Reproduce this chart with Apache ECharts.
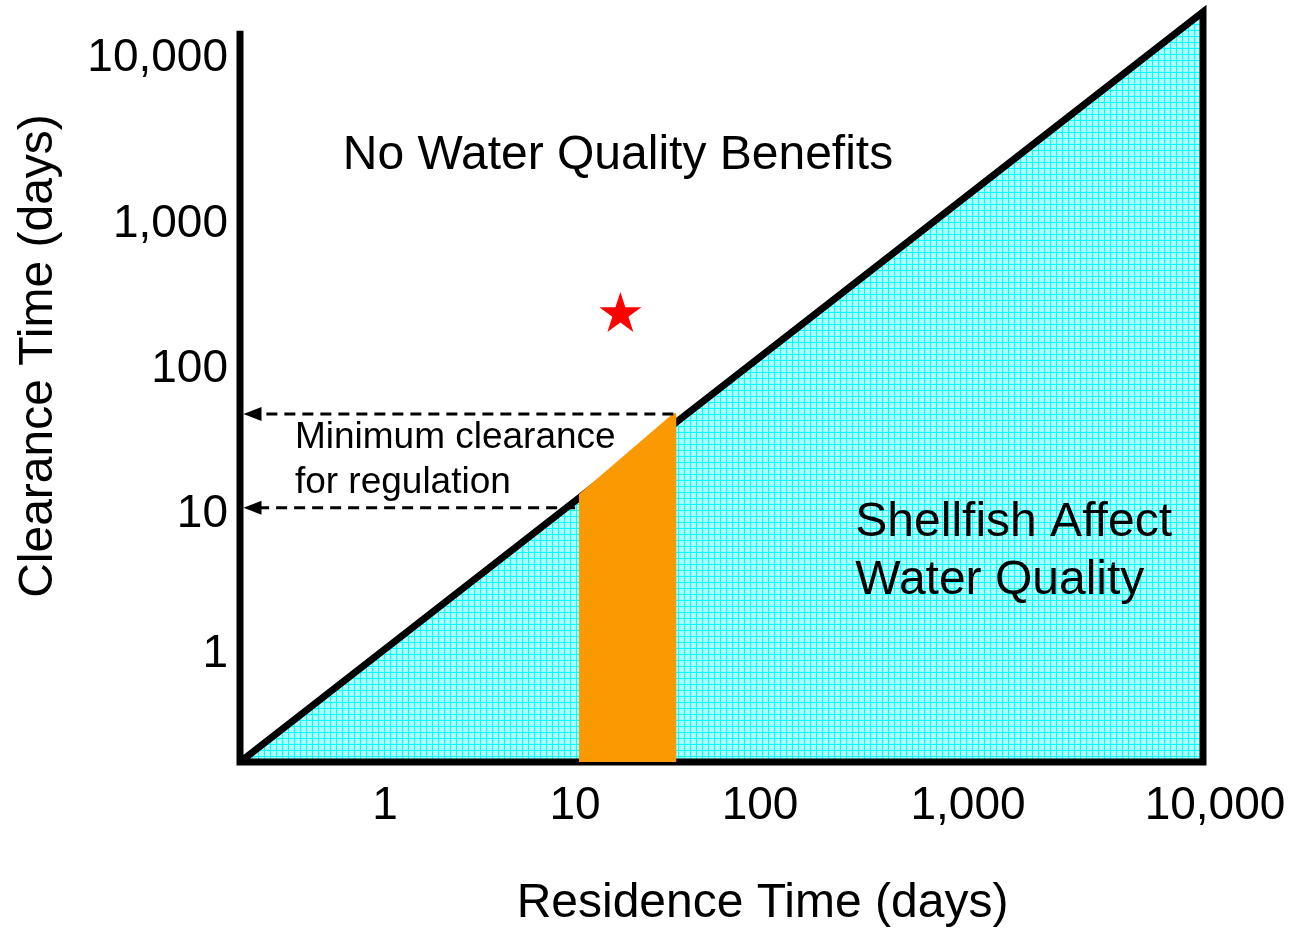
<!DOCTYPE html>
<html>
<head>
<meta charset="utf-8">
<script src="https://cdn.jsdelivr.net/npm/echarts@6/dist/echarts.min.js"></script>
<style>
  html, body { margin: 0; padding: 0; background: #fff; overflow: hidden; }
  #chart { width: 1292px; height: 929px; }
</style>
</head>
<body>
<div id="chart"></div>
<script>
// ---- data (schematic axis units: 0..100 along each axis) ----
const xTickLabels = ['1', '10', '100', '1,000', '10,000'];
const xTickPos = [15.06, 34.8, 54.0, 75.6, 100];
const yTickLabels = ['1', '10', '100', '1,000', '10,000'];
const yTickPos = [14.4, 33.0, 52.3, 71.7, 93.8];

const frameLine = [[0, 97.5], [0, 0], [100, 0], [100, 100], [0, 0]];
const shellfishZone = [[0, 0], [100, 100], [100, 0]];
const regulationZone = [[35.2, 0], [35.2, 35.7], [45.0, 46.5], [45.3, 46.5], [45.3, 0]];
const minClearanceHigh = [[45.0, 46.4], [1.4, 46.4]];
const minClearanceLow = [[34.8, 33.9], [1.4, 33.9]];
const arrowHeads = [[1.3, 46.4], [1.3, 33.9]];
const starPoint = [[39.5, 60.0]];
const zoneLabels = [
  { text: 'No Water Quality Benefits', pos: [39.25, 80.8], align: 'center' },
  { text: 'Shellfish Affect\nWater Quality', pos: [63.9, 28.0], align: 'left' },
  { text: 'Minimum clearance\nfor regulation', pos: [5.7, 40.2], align: 'left' }
];

// ---- styles ----
const FONT = 'Liberation Sans, Arial, Helvetica, sans-serif';

function makePattern() {
  const c = document.createElement('canvas');
  c.width = 6; c.height = 6;
  const g = c.getContext('2d');
  g.fillStyle = '#aaffff';
  g.fillRect(0, 0, 6, 6);
  g.fillStyle = '#00ffff';
  g.fillRect(0, 0, 6, 1);
  g.fillRect(0, 0, 1, 6);
  g.fillStyle = '#ddffff';
  g.fillRect(3, 3, 1, 1);
  return c;
}
const pattern = makePattern();

function starPath() {
  const pts = [];
  for (let i = 0; i < 10; i++) {
    const r = i % 2 === 0 ? 100 : 38.2;
    const a = (-90 + i * 36) * Math.PI / 180;
    pts.push((100 + r * Math.cos(a)).toFixed(2) + ',' + (100 + r * Math.sin(a)).toFixed(2));
  }
  return 'path://M' + pts.join('L') + 'Z';
}

function nearestIndex(arr, v) {
  let best = 0;
  for (let i = 1; i < arr.length; i++) if (Math.abs(arr[i] - v) < Math.abs(arr[best] - v)) best = i;
  return best;
}

function polygonSeries(points, fill, z) {
  return {
    type: 'custom',
    z: z,
    silent: true,
    clip: false,
    data: [[0, 0]],
    renderItem: function (params, api) {
      return {
        type: 'polygon',
        shape: { points: points.map(p => api.coord(p)) },
        style: { fill: fill }
      };
    }
  };
}

const chart = echarts.init(document.getElementById('chart'), null, { renderer: 'canvas' });

const option = {
  animation: false,
  backgroundColor: '#ffffff',
  grid: { left: 240, right: 89, top: 12, bottom: 167, containLabel: false, outerBoundsMode: 'none' },
  xAxis: {
    type: 'value',
    min: 0, max: 100,
    name: 'Residence Time (days)',
    nameLocation: 'middle',
    nameGap: 118,
    nameTextStyle: { fontFamily: FONT, fontSize: 48, color: '#000', padding: [0, 0, 0, 82] },
    axisLine: { show: false },
    axisTick: { show: false },
    splitLine: { show: false },
    axisLabel: {
      customValues: xTickPos,
      margin: 21,
      fontFamily: FONT, fontSize: 46, color: '#000',
      formatter: function (v) {
        const i = nearestIndex(xTickPos, v);
        if (i === xTickLabels.length - 1) return '{shift|' + xTickLabels[i] + '}';
        return xTickLabels[i];
      },
      rich: { shift: { fontFamily: FONT, fontSize: 46, color: '#000', padding: [0, 0, 0, 24] } }
    }
  },
  yAxis: {
    type: 'value',
    min: 0, max: 100,
    name: 'Clearance Time (days)',
    nameLocation: 'middle',
    nameGap: 177,
    nameRotate: 90,
    nameTextStyle: { fontFamily: FONT, fontSize: 48, color: '#000', padding: [0, 0, 0, 62] },
    axisLine: { show: false },
    axisTick: { show: false },
    splitLine: { show: false },
    axisLabel: {
      customValues: yTickPos,
      margin: 12,
      fontFamily: FONT, fontSize: 46, color: '#000',
      formatter: function (v) { return yTickLabels[nearestIndex(yTickPos, v)]; }
    }
  },
  series: [
    polygonSeries(shellfishZone, { image: pattern, repeat: 'repeat' }, 1),
    {
      type: 'line', z: 2, clip: false, silent: true,
      data: frameLine, symbol: 'none',
      lineStyle: { color: '#000', width: 7, join: 'miter', miterLimit: 20, cap: 'butt', opacity: 1 }
    },
    polygonSeries(regulationZone, '#fb9902', 3),
    {
      type: 'line', z: 4, clip: false, silent: true,
      data: minClearanceHigh, symbol: 'none',
      lineStyle: { color: '#000', width: 3.2, type: [11, 7], opacity: 1 }
    },
    {
      type: 'line', z: 4, clip: false, silent: true,
      data: minClearanceLow, symbol: 'none',
      lineStyle: { color: '#000', width: 3.2, type: [11, 7], opacity: 1 }
    },
    {
      type: 'scatter', z: 4, clip: false, silent: true,
      data: arrowHeads, symbol: 'triangle', symbolSize: [14, 18], symbolRotate: 90,
      itemStyle: { color: '#000', opacity: 1 }
    },
    {
      type: 'scatter', z: 5, clip: false, silent: true,
      data: starPoint, symbol: starPath(), symbolKeepAspect: true, symbolSize: 42,
      itemStyle: { color: '#ff0000', opacity: 1 }
    },
    {
      type: 'scatter', z: 6, clip: false, silent: true,
      symbolSize: 0,
      itemStyle: { opacity: 1 },
      data: [],
      label: {
        show: true,
        position: 'inside',
        color: '#000',
        opacity: 1,
        fontFamily: FONT,
        formatter: p => p.name
      }
    }
  ]
};

option.series[7].data = zoneLabels.map(function (d, i) {
  const small = i === 2;
  return {
    value: d.pos,
    name: d.text,
    itemStyle: { opacity: 1 },
    label: {
      align: d.align,
      verticalAlign: 'middle',
      color: '#000',
      fontSize: small ? 37 : 48,
      lineHeight: small ? 45 : 58
    }
  };
});

chart.setOption(option);
</script>
</body>
</html>
